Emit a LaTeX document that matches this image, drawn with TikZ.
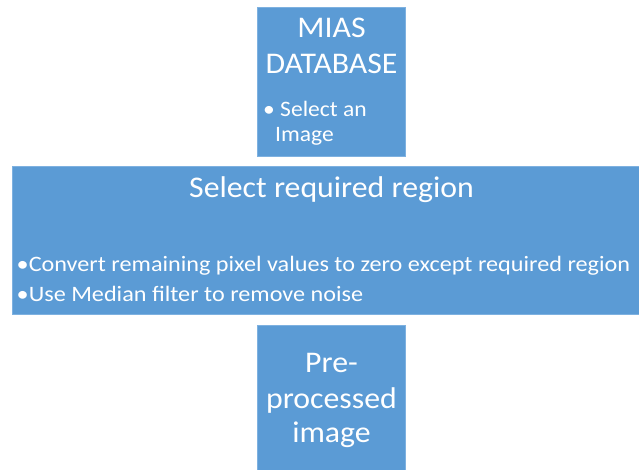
\documentclass[tikz,border=0pt]{standalone}
\usepackage{fontspec}
\setmainfont{Carlito}
\definecolor{boxblue}{HTML}{5B9BD5}
\definecolor{boxedge}{HTML}{7EB1E0}
\newcommand{\wider}[2]{\scalebox{#1}[1]{#2}}
\tikzset{
  blk/.style={fill=boxblue, draw=boxedge, line width=0.8pt, inner sep=0pt, outer sep=0pt},
  ttl/.style={text=white, font=\fontsize{30}{30}\selectfont, anchor=base, inner sep=0pt},
  bul/.style={text=white, font=\fontsize{22}{22}\selectfont, anchor=base west, inner sep=0pt},
}
\begin{document}
\begin{tikzpicture}[x=1pt,y=-1pt]
\useasboundingbox (0,0) rectangle (639,470);
% boxes
\node[blk, minimum width=148.5pt, minimum height=148.5pt] (top) at (331.25,81.75) {};
\node[blk, minimum width=633pt, minimum height=147.5pt] (mid) at (328.5,240.25) {};
\node[blk, minimum width=148.5pt, minimum height=151pt] (bot) at (331.25,400.5) {};
% top box text
\node[ttl] (t1) at (331.5,37.5) {\wider{1.06}{MIAS}};
\node[ttl] (t2) at (331.5,73.3) {\wider{1.06}{DATABASE}};
\node[bul] (t3) at (263,117) {\wider{1.07}{• Select an}};
\node[bul] (t4) at (275,142) {\wider{1.07}{Image}};
% middle box text
\node[ttl] (m1) at (331.5,198) {\wider{1.06}{Select required region}};
\node[bul] (m2) at (16.5,271.7) {\wider{1.10}{•Convert remaining pixel values to zero except required region}};
\node[bul] (m3) at (16.5,301.7) {\wider{1.10}{•Use Median filter to remove noise}};
% bottom box text
\node[ttl] (b1) at (331.5,372) {\wider{1.06}{Pre-}};
\node[ttl] (b2) at (331.5,408) {\wider{1.06}{processed}};
\node[ttl] (b3) at (331.5,442) {\wider{1.06}{image}};
\end{tikzpicture}
\end{document}
